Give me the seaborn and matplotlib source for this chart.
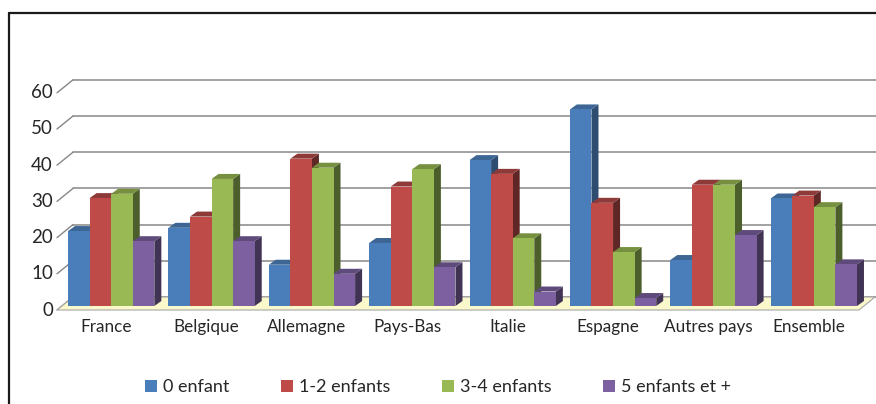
import matplotlib
matplotlib.use("Agg")
import matplotlib.pyplot as plt
import pandas as pd
import seaborn as sns
from matplotlib.patches import Polygon, Patch
from matplotlib.lines import Line2D
from matplotlib.transforms import IdentityTransform

# ---- data -------------------------------------------------------------
pays = ["France", "Belgique", "Allemagne", "Pays-Bas", "Italie",
        "Espagne", "Autres pays", "Ensemble"]
series = ["0 enfant", "1-2 enfants", "3-4 enfants", "5 enfants et +"]
zero_enfant = [20.7, 21.6, 11.4, 17.4, 40.3, 54.3, 12.7, 29.7]
un_deux = [29.8, 24.7, 40.7, 33.0, 36.5, 28.5, 33.5, 30.5]
trois_quatre = [31.0, 35.1, 38.2, 37.8, 18.7, 14.9, 33.5, 27.3]
cinq_plus = [17.9, 17.9, 8.9, 10.7, 4.0, 2.2, 19.6, 11.5]
yticks = [0, 10, 20, 30, 40, 50, 60]

front_colors = ["#4A7EBB", "#BE4B48", "#98B954", "#7D60A0"]
top_colors = ["#3D6694", "#8E3A38", "#76903F", "#5F4A7C"]
side_colors = ["#2E4C70", "#5E2726", "#4C5E2C", "#403354"]
grid_color = "#878787"
floor_color = "#FBF9CC"
text_color = "#262626"

df = pd.DataFrame({
    "pays": pays * 4,
    "serie": [s for s in series for _ in pays],
    "valeur": zero_enfant + un_deux + trois_quatre + cinq_plus,
})

# ---- figure -----------------------------------------------------------
sns.set_style("white")
plt.rcParams["font.family"] = ["Lato", "DejaVu Sans"]

W, H, DPI = 876, 404, 100
fig = plt.figure(figsize=(W / DPI, H / DPI), dpi=DPI)
fig.patch.set_facecolor("white")

# axes = front plane of the bars (pixel box 62..864 x 88.8..306)
ax = fig.add_axes([62 / W, (H - 306) / H, (864 - 62) / W, 217.2 / H])
sns.barplot(data=df, x="pays", y="valeur", hue="serie", order=pays,
            hue_order=series, palette=front_colors, saturation=1,
            width=0.86, linewidth=0, errorbar=None, legend=False, ax=ax)
ax.set_xlim(-0.49, 7.5)
ax.set_ylim(0, 60)
ax.axis("off")

# pixel helpers: data point shifted by (dx right, dy down) pixels
def P(x, y, dx=0.0, dy=0.0):
    px, py = ax.transData.transform((x, y))
    return (px + dx, py - dy)

ident = IdentityTransform()
x0_lim, x1_lim = ax.get_xlim()

# floor
floor = Polygon([P(x0_lim, 0, -5, 4), P(x1_lim, 0, -5, 4),
                 P(x1_lim, 0, 11, -9), P(x0_lim, 0, 11, -9)],
                closed=True, facecolor=floor_color, edgecolor="#A6A6A6",
                linewidth=0.8, transform=ident, zorder=1, clip_on=False)
ax.add_artist(floor)

# back wall gridlines and side diagonals, y tick labels
for v in yticks:
    a = P(x0_lim, v, 11, -9)
    b = P(x1_lim + 0.2, v, 11, -9)
    c = P(x0_lim, v, -5, 4)
    ax.add_artist(Line2D([a[0], b[0]], [a[1], b[1]], color=grid_color,
                         lw=1.1, transform=ident, zorder=0.5, clip_on=False))
    ax.add_artist(Line2D([c[0], a[0]], [c[1], a[1]], color=grid_color,
                         lw=1.0, transform=ident, zorder=0.5, clip_on=False))
    fig.text(c[0] - 4, c[1], f"{v}", ha="right", va="center",
             fontsize=13.5, color=text_color, transform=ident)

# 3-D depth of the columns
sx = ax.transData.transform((1, 0))[0] - ax.transData.transform((0, 0))[0]
sy = ax.transData.transform((0, 1))[1] - ax.transData.transform((0, 0))[1]
ddx, ddy = 7 / sx, 5 / sy

bars = []
for k, cont in enumerate(ax.containers):
    for bar in cont:
        bars.append((bar.get_x(), k, bar))
bars.sort(key=lambda t: t[0])

for rank, (_, k, bar) in enumerate(bars):
    x, w, h = bar.get_x(), bar.get_width(), bar.get_height()
    z = 5 + 3 * rank
    side = Polygon([(x + w, 0), (x + w, h), (x + w + ddx, h + ddy),
                    (x + w + ddx, ddy)], closed=True,
                   facecolor=side_colors[k], edgecolor="none",
                   zorder=z, clip_on=False)
    top = Polygon([(x, h), (x + w, h), (x + w + ddx, h + ddy),
                   (x + ddx, h + ddy)], closed=True,
                  facecolor=top_colors[k], edgecolor="none",
                  zorder=z + 1, clip_on=False)
    ax.add_patch(side)
    ax.add_patch(top)
    bar.set_zorder(z + 2)
    bar.set_clip_on(False)

# category labels
for i, name in enumerate(pays):
    px, py = P(i, 0, -5, 21)
    fig.text(px, py, name, ha="center", va="center", fontsize=12.3,
             color=text_color, transform=ident)

# legend
handles = [Patch(facecolor=c, edgecolor="none") for c in front_colors]
fig.legend(handles, series, loc="center", bbox_to_anchor=(438 / W, 1 - 387 / H),
           ncol=4, frameon=False, handlelength=0.65, handleheight=0.65,
           handletextpad=0.35, columnspacing=2.85, fontsize=13,
           labelcolor=text_color)

# chart frame (top and left edges)
fig.add_artist(Line2D([9, W], [H - 13, H - 13], color="#1A1A1A", lw=1.6,
                      transform=ident))
fig.add_artist(Line2D([9, 9], [0, H - 13], color="#1A1A1A", lw=1.6,
                      transform=ident))

fig.savefig("out.png", dpi=DPI, facecolor="white")
